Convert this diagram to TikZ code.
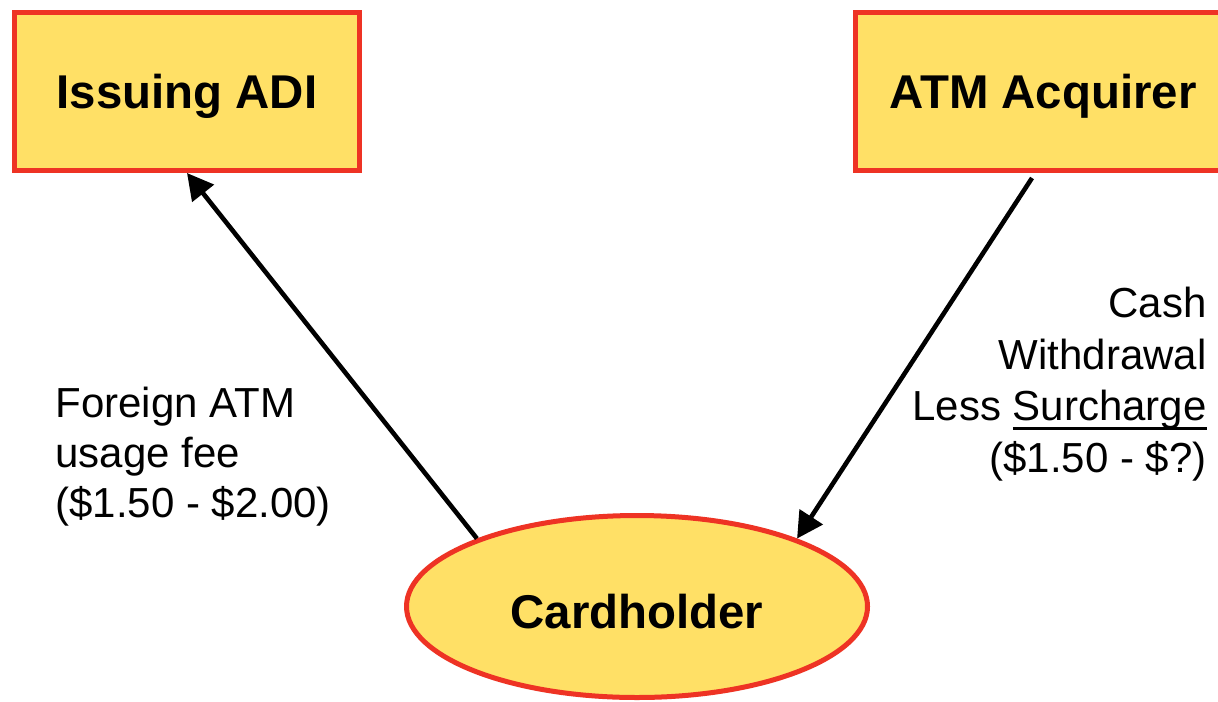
\documentclass[tikz,border=0pt]{standalone}
\usepackage{fontspec}
\setmainfont{Liberation Sans}
\usetikzlibrary{arrows.meta,shapes.geometric}
\definecolor{boxfill}{RGB}{255,224,102}
\definecolor{boxline}{RGB}{238,51,36}
\newcommand{\myul}[1]{\setbox0\hbox{#1}\rlap{\rule[-4.6pt]{\wd0}{1.5pt}}\box0}
\tikzset{
  entity/.style={draw=boxline, fill=boxfill, line width=2.5pt, inner sep=0pt,
    font=\fontsize{23.7}{28}\selectfont\bfseries, text height=17pt, text depth=0pt},
  entbox/.style={entity, rectangle, minimum height=79pt},
  entell/.style={entity, ellipse, minimum width=230.5pt, minimum height=91pt},
  flow/.style={line width=2.3pt, -{Triangle[length=13pt,width=13.5pt]}},
  lbl/.style={font=\fontsize{21}{25.5}\selectfont, inner sep=0pt}
}
\begin{document}
\begin{tikzpicture}[x=0.5pt,y=-0.5pt]
\useasboundingbox (0,0) rectangle (1218,701);
\clip (0,0) rectangle (1218,701);
\fill[white] (0,0) rectangle (1218,701);
\node[entbox, minimum width=172.5pt] (issuer) at (187,91.5) {Issuing ADI};
\node[entbox, minimum width=187.5pt] (acq) at (1043,91.5) {ATM Acquirer};
\node[entell] (card) at (637,606.5) {};
\node[font=\fontsize{23.7}{28}\selectfont\bfseries, text height=17pt, text depth=0pt, inner sep=0pt] (cardtxt) at (637,611) {Cardholder};
\draw[flow] (card.157) -- (issuer.south);
\coordinate (acqout) at ([xshift=-5.5pt,yshift=-2.5pt]acq.south);
\draw[flow] (acqout) -- (card.23);
\node[lbl, align=left, anchor=base west, font=\fontsize{21}{25}\selectfont] (feetxt) at (55,517) {Foreign ATM\\usage fee\\(\$1.50 - \$2.00)};
\node[lbl, align=right, anchor=base east, font=\fontsize{21}{25.7}\selectfont] (cashtxt) at (1207,472) {Cash\\Withdrawal\\Less \myul{Surcharge}\\(\$1.50 - \$?)};
\end{tikzpicture}
\end{document}
